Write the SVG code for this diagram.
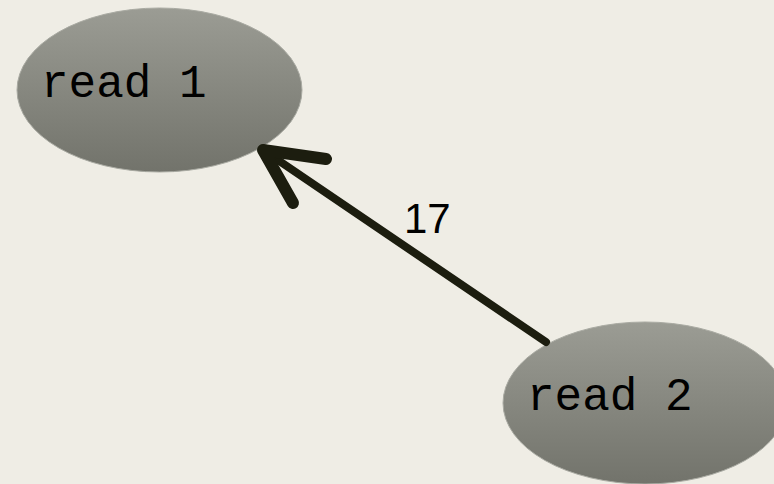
<svg xmlns="http://www.w3.org/2000/svg" width="774" height="484" viewBox="0 0 774 484">
<defs>
<linearGradient id="g" x1="0" y1="0" x2="0" y2="1">
<stop offset="0" stop-color="#9b9c94"/>
<stop offset="1" stop-color="#72736b"/>
</linearGradient>
<style>
.node ellipse{fill:url(#g);stroke:#a9aaa2;stroke-width:1}
.node text{font-family:"Liberation Mono","Courier New",monospace;font-size:46px;fill:#000}
.edge{stroke:#1c1d0f;fill:none;stroke-linecap:round;stroke-linejoin:round}
.lbl{font-family:"Liberation Sans",Arial,sans-serif;font-size:42px;fill:#000}
</style>
</defs>
<rect width="774" height="484" fill="#efede5"/>
<g id="read1" class="node">
<ellipse cx="159.5" cy="90" rx="142.5" ry="82"/>
<text x="41" y="97">read 1</text>
</g>
<g id="read2" class="node">
<ellipse cx="645" cy="403" rx="142" ry="81"/>
<text x="527" y="410">read 2</text>
</g>
<g id="connectors">
<line class="edge" x1="546" y1="342" x2="266" y2="152" stroke-width="8" stroke-linecap="butt"/>
<polyline class="edge" points="326,159 263,150 293,203" stroke-width="12"/>
<text class="lbl" x="404" y="233">17</text>
</g>
</svg>
